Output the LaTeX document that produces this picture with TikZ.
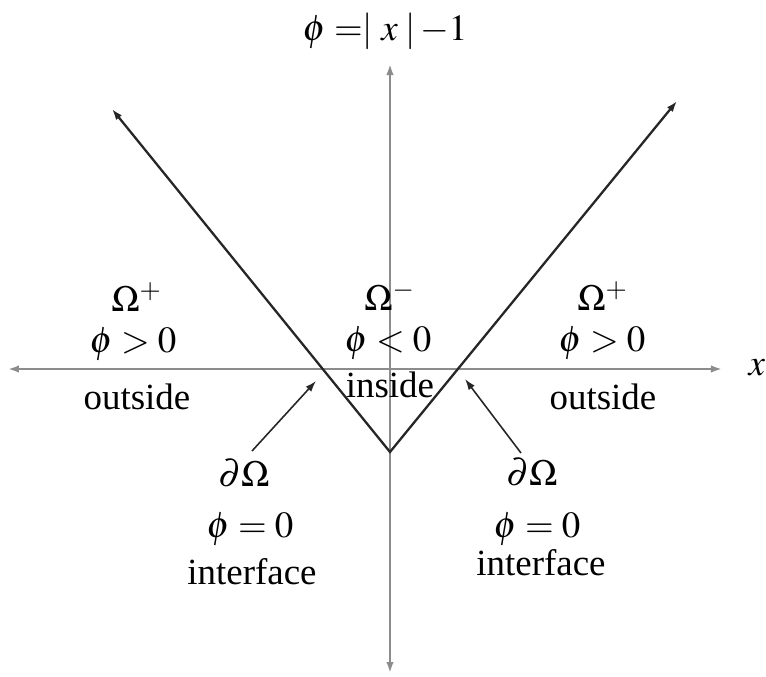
\documentclass[tikz,border=0pt]{standalone}
\usepackage{mathptmx}
\usepackage[no-math]{fontspec}
\setmainfont{Liberation Serif}
\usetikzlibrary{arrows.meta}

\tikzstyle{axisline}=[black!45, line width=0.6pt]
\tikzstyle{vline}=[black!85, line width=0.65pt]
\tikzstyle{pointer}=[black!85, line width=0.45pt, ->]
\tikzstyle{txt}=[inner sep=0pt, font=\fontsize{10.5}{12}\selectfont]

\begin{document}
\begin{tikzpicture}[x=0.1mm, y=-0.1mm, >={Latex[length=1.1mm, width=0.75mm]}]
	\useasboundingbox (0,0) rectangle (766,677);

	% Axes
	\coordinate (xmin) at (8,369);
	\coordinate (xmax) at (722,369);
	\coordinate (ymin) at (390,673);
	\coordinate (ymax) at (390,64);
	\draw[axisline, <->] (xmin) -- (xmax);
	\draw[axisline, <->] (ymin) -- (ymax);
	\node[txt] (xlab) at (757,368) {$x$};
	\node[txt] (eq) at (385,31) {$\phi\;{=}|\;x\;|\,{-}1$};

	% Level set function
	\coordinate (vertex) at (390,452);
	\coordinate (lend) at (112,109);
	\coordinate (rend) at (677,101);
	\draw[vline, <->] (lend) -- (vertex) -- (rend);

	% Regions
	\node[txt] (lomega) at (137,297) {$\Omega^{+}$};
	\node[txt] (lsign)  at (133,344) {$\phi > 0$};
	\node[txt] (lout)   at (137,397) {outside};

	\node[txt] (momega) at (390,296) {$\Omega^{-}$};
	\node[txt] (msign)  at (388,343) {$\phi < 0$};
	\node[txt] (min)    at (390,385) {inside};

	\node[txt] (romega) at (603,296) {$\Omega^{+}$};
	\node[txt] (rsign)  at (602,343) {$\phi > 0$};
	\node[txt] (rout)   at (603,397) {outside};

	% Interface
	\node[txt] (lbdry)  at (244,473) {$\partial\Omega$};
	\node[txt] (lzero)  at (250,529) {$\phi = 0$};
	\node[txt] (lface)  at (252,572) {interface};

	\node[txt] (rbdry)  at (532,472) {$\partial\Omega$};
	\node[txt] (rzero)  at (537,529) {$\phi = 0$};
	\node[txt] (rface)  at (541,563) {interface};

	\coordinate (ltail) at (252,451);
	\coordinate (lhit)  at (316,381);
	\coordinate (rtail) at (521,453);
	\coordinate (rhit)  at (465,379);
	\draw[pointer] (ltail) -- (lhit);
	\draw[pointer] (rtail) -- (rhit);
\end{tikzpicture}
\end{document}
